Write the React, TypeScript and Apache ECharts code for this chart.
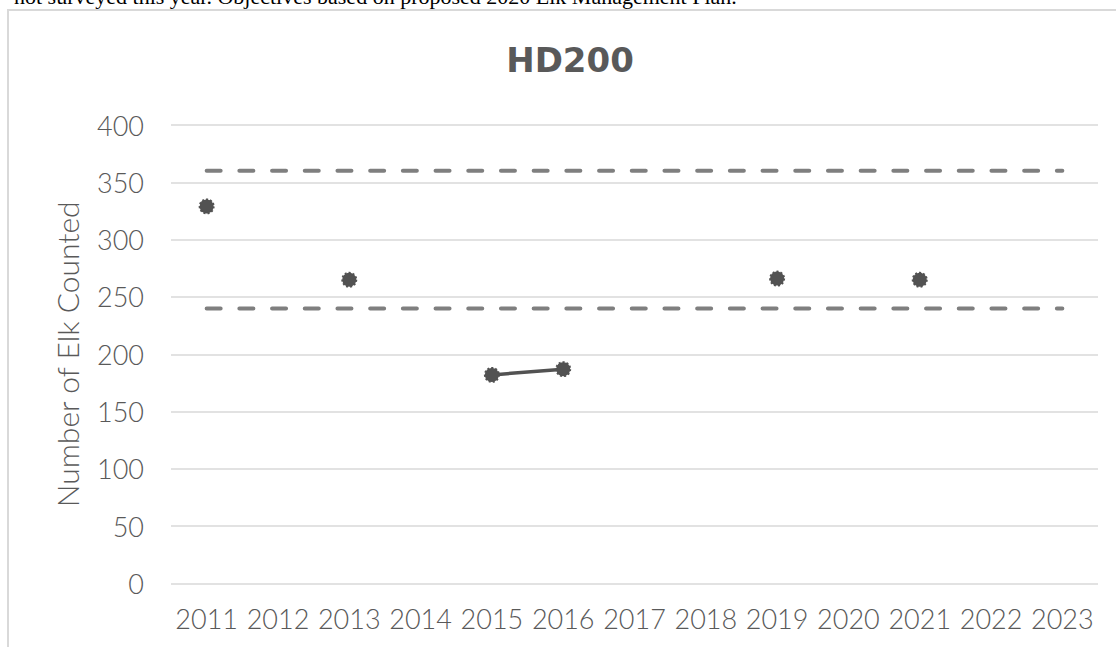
import React, { useEffect, useRef } from "react";
import * as echarts from "echarts";

// Survey years on the category axis
const years = ["2011", "2012", "2013", "2014", "2015", "2016", "2017", "2018", "2019", "2020", "2021", "2022", "2023"];

// Elk counted per survey year (null = not surveyed)
const elkCounted: (number | null)[] = [329, null, 265, null, 182, 187, null, null, 266, null, 265, null, null];

// Population objective band from the management plan
const upperObjective: number[] = [360, 360, 360, 360, 360, 360, 360, 360, 360, 360, 360, 360, 360];
const lowerObjective: number[] = [240, 240, 240, 240, 240, 240, 240, 240, 240, 240, 240, 240, 240];

const yTicks = { min: 0, max: 400, interval: 50 };

const LIGHT_FONT = "Lato, 'Open Sans', sans-serif";
const TEXT_GREY = "#595959";

export default function App() {
  const ref = useRef<HTMLDivElement>(null);

  useEffect(() => {
    if (!ref.current) return;
    const chart = echarts.init(ref.current, undefined, { renderer: "svg" });
    const objectiveLine = {
      color: "#7f7f7f",
      width: 4,
      type: [14, 18.7] as number[],
      cap: "round" as const,
    };
    chart.setOption({
      animation: false,
      title: {
        text: "HD200",
        left: "center",
        top: 27,
        textStyle: {
          fontFamily: "'DejaVu Sans', sans-serif",
          fontWeight: "bold",
          fontSize: 34,
          color: TEXT_GREY,
        },
      },
      grid: { left: 162, right: 33, top: 114, bottom: 63.5 },
      xAxis: {
        type: "category",
        data: years,
        boundaryGap: true,
        axisLine: { show: false },
        axisTick: { show: false },
        axisLabel: {
          interval: 0,
          margin: 21,
          fontFamily: LIGHT_FONT,
          fontWeight: 300,
          fontSize: 27,
          color: TEXT_GREY,
        },
      },
      yAxis: {
        type: "value",
        min: yTicks.min,
        max: yTicks.max,
        interval: yTicks.interval,
        name: "Number of Elk Counted",
        nameLocation: "middle",
        nameGap: 89,
        nameTextStyle: {
          fontFamily: LIGHT_FONT,
          fontWeight: 300,
          fontSize: 30,
          color: TEXT_GREY,
        },
        axisLine: { show: false },
        axisTick: { show: false },
        axisLabel: {
          margin: 27,
          fontFamily: LIGHT_FONT,
          fontWeight: 300,
          fontSize: 27,
          color: TEXT_GREY,
        },
        splitLine: { lineStyle: { color: "#d9d9d9", width: 1.5 } },
      },
      series: [
        {
          name: "Upper objective",
          type: "line",
          data: upperObjective,
          symbol: "none",
          lineStyle: objectiveLine,
        },
        {
          name: "Lower objective",
          type: "line",
          data: lowerObjective,
          symbol: "none",
          lineStyle: objectiveLine,
        },
        {
          name: "Elk counted",
          type: "line",
          data: elkCounted,
          connectNulls: false,
          symbol: "circle",
          symbolSize: 14,
          showAllSymbol: true,
          itemStyle: {
            color: "#525252",
            borderColor: "#525252",
            borderWidth: 2,
            borderType: "dotted",
          },
          lineStyle: { color: "#525252", width: 3.5 },
        },
      ],
    });
    return () => chart.dispose();
  }, []);

  return (
    <div
      style={{
        position: "absolute",
        left: 0,
        top: 0,
        width: 1116,
        height: 647,
        overflow: "hidden",
        background: "#fff",
      }}
    >
      <div
        style={{
          position: "absolute",
          left: 14,
          top: -13,
          whiteSpace: "nowrap",
          fontFamily: "'Liberation Serif', serif",
          fontSize: 22,
          lineHeight: "20px",
          color: "#000",
        }}
      >
        not surveyed this year. Objectives based on proposed 2020 Elk Management Plan.
      </div>
      <div
        style={{
          position: "absolute",
          left: 7,
          top: 9,
          width: 1140,
          height: 700,
          border: "2px solid #d9d9d9",
          boxSizing: "border-box",
        }}
      />
      <div
        ref={ref}
        style={{ position: "absolute", left: 9, top: 11, width: 1122, height: 636 }}
      />
    </div>
  );
}
